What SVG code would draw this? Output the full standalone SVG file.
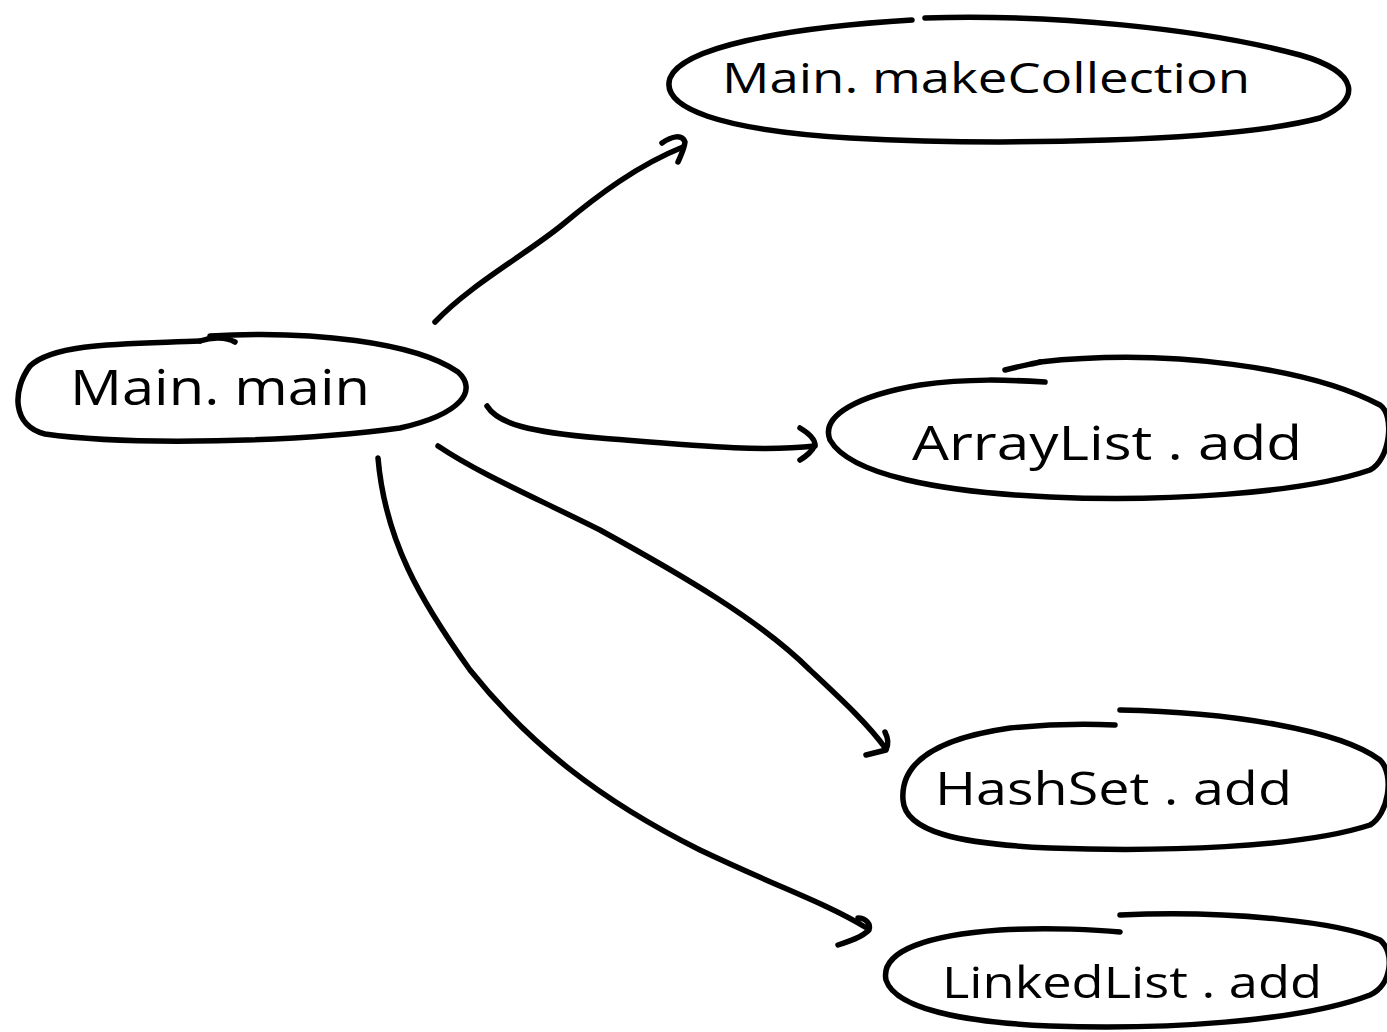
<svg xmlns="http://www.w3.org/2000/svg" width="1387" height="1032" viewBox="0 0 1387 1032">
<defs>
<style>
.shape{fill:none;stroke:#000;stroke-width:5.5;stroke-linecap:round;stroke-linejoin:round}
.edge{fill:none;stroke:#000;stroke-width:5.5;stroke-linecap:round;stroke-linejoin:round}
.label{font-family:"Open Sans","DejaVu Sans",sans-serif;font-weight:400;fill:#000}
</style>
</defs>
<rect width="1387" height="1032" fill="#fff"/>
<g id="node-main">
<path class="shape" d="M210,336 C310,330 415,342 458,372 C478,390 462,414 400,428 C300,442 130,446 45,434 C12,426 12,390 30,366 C55,342 130,344 200,341"/>
<path class="shape" d="M200,341 C212,337 226,337 235,342"/>
<text class="label" x="70" y="405" font-size="50" textLength="300" lengthAdjust="spacingAndGlyphs">Main. main</text>
</g>
<g id="node-makecollection">
<path class="shape" d="M925,18 C1050,14 1200,28 1300,55 C1360,72 1362,100 1320,118 C1230,142 1000,146 850,138 C720,130 660,108 670,78 C682,48 780,28 912,20"/>
<text class="label" x="722" y="93" font-size="42" textLength="528" lengthAdjust="spacingAndGlyphs">Main. makeCollection</text>
</g>
<g id="node-arraylist">
<path class="shape" d="M1040,362 C1170,348 1310,368 1380,405 C1395,415 1390,460 1370,470 C1300,494 1160,502 1050,497 C940,492 850,475 830,440 C820,415 860,395 920,385 C970,378 1010,380 1045,382"/>
<path class="shape" d="M1005,370 C1020,366 1032,364 1040,362"/>
<text class="label" x="912" y="460" font-size="48" textLength="390" lengthAdjust="spacingAndGlyphs">ArrayList . add</text>
</g>
<g id="node-hashset">
<path class="shape" d="M1120,710 C1230,712 1340,730 1380,760 C1395,775 1388,815 1370,825 C1300,848 1160,852 1050,848 C960,844 905,832 903,800 C900,760 940,738 1010,728 C1050,724 1090,724 1115,725"/>
<text class="label" x="935" y="805" font-size="46" textLength="357" lengthAdjust="spacingAndGlyphs">HashSet . add</text>
</g>
<g id="node-linkedlist">
<path class="shape" d="M1120,915 C1230,910 1340,922 1380,940 C1395,952 1392,985 1370,995 C1300,1022 1160,1030 1050,1026 C960,1022 895,1008 886,980 C880,950 930,935 1000,930 C1050,927 1100,930 1120,932"/>
<text class="label" x="942" y="998" font-size="44" textLength="380" lengthAdjust="spacingAndGlyphs">LinkedList . add</text>
</g>
<g id="connectors">
<path class="edge" d="M435,322 C470,285 525,255 562,225 C598,195 638,165 683,147"/>
<path class="edge" d="M662,143 C672,136 682,134 685,142 C684,150 680,157 678,162"/>
<path class="edge" d="M487,406 C498,424 530,432 600,438 C700,446 760,452 815,446"/>
<path class="edge" d="M800,428 C810,434 815,440 815,445 C812,452 806,456 800,460"/>
<path class="edge" d="M438,446 C480,474 530,495 600,530 C680,574 760,620 810,670 C842,700 868,724 886,749"/>
<path class="edge" d="M885,732 C889,740 888,746 886,750 L866,755"/>
<path class="edge" d="M378,458 C385,540 420,600 470,670 C530,745 600,800 700,850 C780,888 828,904 865,927"/>
<path class="edge" d="M858,918 C866,918 871,924 869,930 C862,937 850,941 838,945"/>
</g>
</svg>
